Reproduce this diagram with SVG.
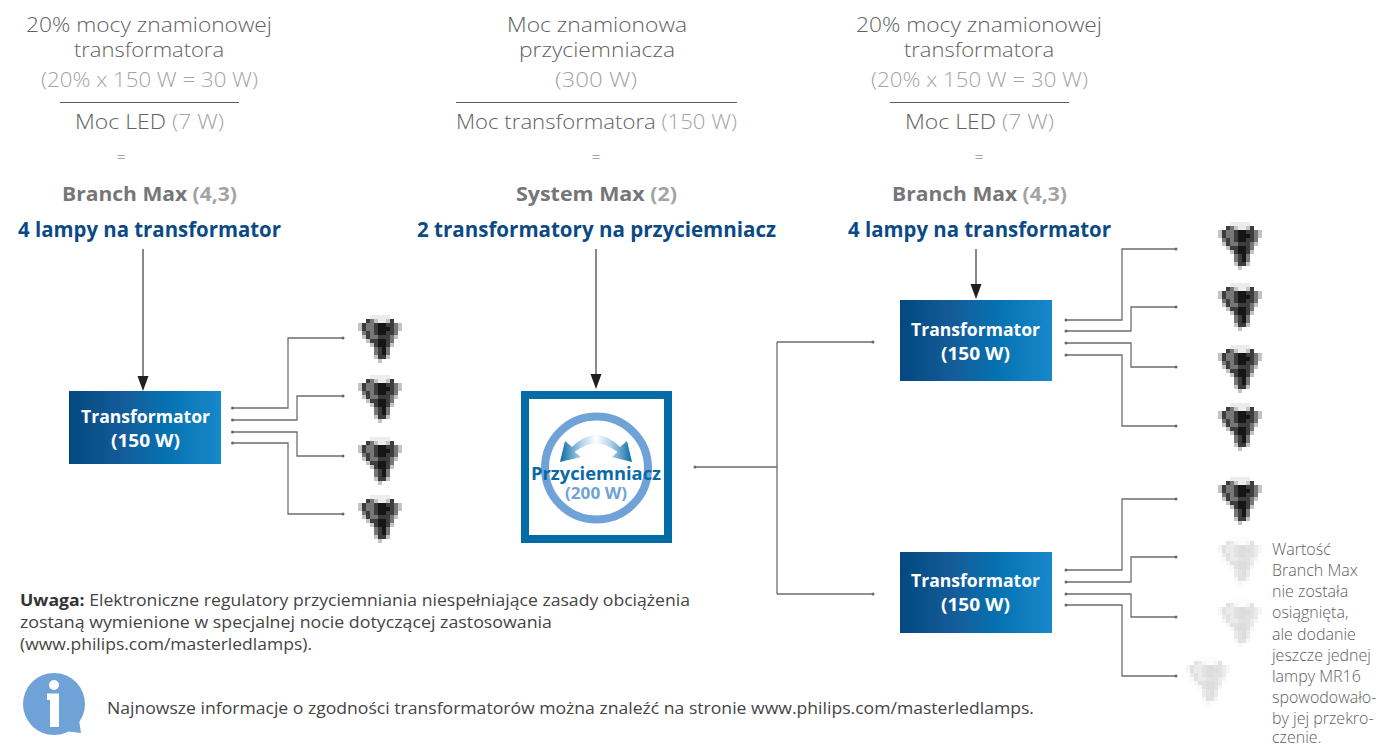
<svg xmlns="http://www.w3.org/2000/svg" xmlns:xlink="http://www.w3.org/1999/xlink" width="1388" height="747" viewBox="0 0 1388 747">
<style>
text{font-family:"Open Sans","Noto Sans","Liberation Sans",sans-serif}
.g{font-size:21px;font-weight:300;fill:#626262}
.p{fill:#a4a4a4}
.eq{font-size:16px;font-weight:300;fill:#626262;text-anchor:middle}
.b{font-size:19.500px;font-weight:700;fill:#767676}
.bp{fill:#a3a3a3}
.h{font-size:20.500px;font-weight:700;fill:#0b4a86}
.t{font-size:18px;font-weight:700;fill:#fff}
.n{font-size:15.500px;font-weight:400;fill:#444}
.s{font-size:16px;font-weight:300;fill:#5e5e5e}
.rule{stroke:#5a5a5a;stroke-width:1;fill:none}
.c{fill:none;stroke:#6e6e6e;stroke-width:1.300}
.a{fill:none;stroke:#4a4a4a;stroke-width:1.300}
.d{fill:#666}
.ah{fill:#231f20}
.box{fill:url(#bg)}
</style>
<defs>
<linearGradient id="bg"><stop offset="0" stop-color="#03487f"/><stop offset=".35" stop-color="#145c99"/><stop offset=".65" stop-color="#0672b1"/><stop offset="1" stop-color="#1888cb"/></linearGradient>
<linearGradient id="sw" gradientUnits="userSpaceOnUse" x1="560" y1="0" x2="632" y2="0"><stop offset="0" stop-color="#0a6aa6"/><stop offset=".3" stop-color="#b4d3e8"/><stop offset=".5" stop-color="#fff"/><stop offset=".7" stop-color="#b4d3e8"/><stop offset="1" stop-color="#0a6aa6"/></linearGradient>
<filter id="soft" x="-10%" y="-10%" width="120%" height="120%"><feGaussianBlur stdDeviation=".5"/></filter>
<g id="lamp" filter="url(#soft)" fill="none" stroke-width="4.200">
<path stroke="#ececec" d="M12 2h20M20 6h8"/>
<path stroke="#c4c4c4" d="M16 6h4M28 6h4M0 10h4M0 14h4M40 14h4M40 10h4M4 22h4M36 22h4M8 26h4M12 30h4M32 30h4M16 42h4M28 42h4M20 46h4"/>
<path stroke="#777" d="M12 6h4M8 10h8M36 10h4M8 14h8M36 14h4M12 18h4M4 18h4M36 18h4M12 22h8M32 22h4M32 26h4M16 34h4M28 34h4M16 38h4M28 38h4"/>
<path stroke="#3c3c3c" d="M8 6h4M32 6h4M4 10h4M16 10h4M28 10h8M4 14h4M16 14h4M32 14h4M8 18h4M16 18h4M28 18h8M8 22h4M20 22h12M12 26h8M28 26h4M16 30h4M28 30h4M20 34h4M20 38h4M20 42h8"/>
<path stroke="#151517" d="M20 10h8M20 14h12M20 18h8M20 26h8M20 30h8M24 34h4M24 38h4"/>
</g>
</defs>

<g id="connectors">
<g class="arrows">
<path class="a" d="M143 249V378"/><path class="ah" d="M137.500 376H148.500L143 391Z"/>
<path class="a" d="M596 249V376"/><path class="ah" d="M590.500 374H601.500L596 389Z"/>
<path class="a" d="M976 249V286"/><path class="ah" d="M970.500 284H981.500L976 299Z"/>
</g>
<path class="c" d="M232 408H288V338H343M232 420H297V396H343M232 432H297V456H343M232 443H288V514H343"/>
<path class="c" d="M694 467H777M777 342V594M777 342H873M777 594H873"/>
<path class="c" d="M1066 320H1122V249H1176M1066 331H1131V307H1176M1066 343H1131V367H1176M1066 355H1122V426H1176"/>
<path class="c" d="M1066 570H1122V499H1176M1066 582H1131V557H1176M1066 594H1131V617H1176M1066 605H1122V676H1176"/>
<g class="d">
<circle cx="232.500" cy="408" r="1.500"/><circle cx="232.500" cy="420" r="1.500"/><circle cx="232.500" cy="432" r="1.500"/><circle cx="232.500" cy="443" r="1.500"/>
<circle cx="343" cy="338" r="1.500"/><circle cx="343" cy="396" r="1.500"/><circle cx="343" cy="456" r="1.500"/><circle cx="343" cy="514" r="1.500"/>
<circle cx="695" cy="467" r="1.500"/><circle cx="873" cy="342" r="1.500"/><circle cx="873" cy="594" r="1.500"/>
<circle cx="1066" cy="320" r="1.500"/><circle cx="1066" cy="331" r="1.500"/><circle cx="1066" cy="343" r="1.500"/><circle cx="1066" cy="355" r="1.500"/>
<circle cx="1176" cy="249" r="1.500"/><circle cx="1176" cy="307" r="1.500"/><circle cx="1176" cy="367" r="1.500"/><circle cx="1176" cy="426" r="1.500"/>
<circle cx="1066" cy="570" r="1.500"/><circle cx="1066" cy="582" r="1.500"/><circle cx="1066" cy="594" r="1.500"/><circle cx="1066" cy="605" r="1.500"/>
<circle cx="1176" cy="499" r="1.500"/><circle cx="1176" cy="557" r="1.500"/><circle cx="1176" cy="617" r="1.500"/><circle cx="1176" cy="676" r="1.500"/>
</g>
</g>

<g id="formula-left">
<text class="g" x="26" y="32" textLength="246" lengthAdjust="spacingAndGlyphs">20% mocy znamionowej</text>
<text class="g" x="74" y="57" textLength="150" lengthAdjust="spacingAndGlyphs">transformatora</text>
<text class="g p" x="41" y="87" textLength="217" lengthAdjust="spacingAndGlyphs">(20% x 150 W = 30 W)</text>
<path class="rule" d="M60 102.500H239"/>
<text class="g" x="75" y="129" textLength="149" lengthAdjust="spacingAndGlyphs">Moc LED <tspan class="p">(7 W)</tspan></text>
<text class="eq" x="121" y="163">=</text>
<text class="b" x="62" y="200.500" textLength="175" lengthAdjust="spacingAndGlyphs">Branch Max <tspan class="bp">(4,3)</tspan></text>
<text class="h" x="18" y="237" textLength="263" lengthAdjust="spacingAndGlyphs">4 lampy na transformator</text>
</g>
<g id="formula-center">
<text class="g" x="507" y="32" textLength="180" lengthAdjust="spacingAndGlyphs">Moc znamionowa</text>
<text class="g" x="519" y="57" textLength="156" lengthAdjust="spacingAndGlyphs">przyciemniacza</text>
<text class="g p" x="555" y="87" textLength="82" lengthAdjust="spacingAndGlyphs">(300 W)</text>
<path class="rule" d="M456 102.500H737"/>
<text class="g" x="456" y="129" textLength="281" lengthAdjust="spacingAndGlyphs">Moc transformatora <tspan class="p">(150 W)</tspan></text>
<text class="eq" x="596" y="163">=</text>
<text class="b" x="516" y="200.500" textLength="161" lengthAdjust="spacingAndGlyphs">System Max <tspan class="bp">(2)</tspan></text>
<text class="h" x="417" y="237" textLength="359" lengthAdjust="spacingAndGlyphs">2 transformatory na przyciemniacz</text>
</g>
<g id="formula-right">
<text class="g" x="856" y="32" textLength="246" lengthAdjust="spacingAndGlyphs">20% mocy znamionowej</text>
<text class="g" x="904" y="57" textLength="150" lengthAdjust="spacingAndGlyphs">transformatora</text>
<text class="g p" x="871" y="87" textLength="217" lengthAdjust="spacingAndGlyphs">(20% x 150 W = 30 W)</text>
<path class="rule" d="M890 102.500H1069"/>
<text class="g" x="905" y="129" textLength="149" lengthAdjust="spacingAndGlyphs">Moc LED <tspan class="p">(7 W)</tspan></text>
<text class="eq" x="979" y="163">=</text>
<text class="b" x="892" y="200.500" textLength="175" lengthAdjust="spacingAndGlyphs">Branch Max <tspan class="bp">(4,3)</tspan></text>
<text class="h" x="848" y="237" textLength="263" lengthAdjust="spacingAndGlyphs">4 lampy na transformator</text>
</g>

<g id="transformer-left">
<rect class="box" x="69" y="391" width="152" height="73"/>
<text class="t" x="81" y="423" textLength="129" lengthAdjust="spacingAndGlyphs">Transformator</text>
<text class="t" x="111" y="447" textLength="69" lengthAdjust="spacingAndGlyphs">(150 W)</text>
</g>
<g id="transformer-top">
<rect class="box" x="900" y="300" width="152" height="81"/>
<text class="t" x="911" y="336" textLength="129" lengthAdjust="spacingAndGlyphs">Transformator</text>
<text class="t" x="941" y="360" textLength="69" lengthAdjust="spacingAndGlyphs">(150 W)</text>
</g>
<g id="transformer-bottom">
<rect class="box" x="900" y="552" width="152" height="81"/>
<text class="t" x="911" y="587" textLength="129" lengthAdjust="spacingAndGlyphs">Transformator</text>
<text class="t" x="941" y="611" textLength="69" lengthAdjust="spacingAndGlyphs">(150 W)</text>
</g>

<g id="dimmer">
<rect x="525" y="395" width="143" height="144" fill="#fff" stroke="#036ba6" stroke-width="8"/>
<circle cx="596.500" cy="468" r="51.500" fill="#fff" stroke="#6fa3d8" stroke-width="8"/>
<path fill="url(#sw)" d="M565 441L560 462L581 457L574.500 452Q596 435 617.500 452L612 457L632 462L627 441L620 447Q596 423 572 447Z"/>
<text x="531" y="480" textLength="130" lengthAdjust="spacingAndGlyphs" font-size="18" font-weight="700" fill="#0a6aa6">Przyciemniacz</text>
<text x="565" y="499" textLength="62" lengthAdjust="spacingAndGlyphs" font-size="16" font-weight="700" fill="#6fa3d8">(200 W)</text>
</g>

<g id="lamps-left">
<g id="lamp-l1"><use href="#lamp" x="358" y="315"/></g>
<g id="lamp-l2"><use href="#lamp" x="358" y="375"/></g>
<g id="lamp-l3"><use href="#lamp" x="358" y="437"/></g>
<g id="lamp-l4"><use href="#lamp" x="358" y="495"/></g>
</g>
<g id="lamps-right">
<g id="lamp-r1"><use href="#lamp" x="1218" y="222"/></g>
<g id="lamp-r2"><use href="#lamp" x="1218" y="283"/></g>
<g id="lamp-r3"><use href="#lamp" x="1218" y="345"/></g>
<g id="lamp-r4"><use href="#lamp" x="1218" y="403"/></g>
<g id="lamp-r5"><use href="#lamp" x="1218" y="477"/></g>
<g id="lamp-r6" opacity=".14"><use href="#lamp" x="1218" y="537"/></g>
<g id="lamp-r7" opacity=".14"><use href="#lamp" x="1218" y="599"/></g>
<g id="lamp-r8" opacity=".14"><use href="#lamp" x="1186" y="657"/></g>
</g>

<g id="note">
<text class="n" x="20" y="606" textLength="670" lengthAdjust="spacingAndGlyphs"><tspan font-weight="700" fill="#333">Uwaga:</tspan> Elektroniczne regulatory przyciemniania niespełniające zasady obciążenia</text>
<text class="n" x="20" y="628" textLength="532" lengthAdjust="spacingAndGlyphs">zostaną wymienione w specjalnej nocie dotyczącej zastosowania</text>
<text class="n" x="20" y="650" textLength="292" lengthAdjust="spacingAndGlyphs">(www.philips.com/masterledlamps).</text>
</g>
<g id="info">
<circle cx="54" cy="704" r="31" fill="#6fa3d8"/>
<path fill="#6fa3d8" d="M72 725L79 720L81 733L64 731Z"/>
<circle cx="54" cy="685" r="5" fill="#fff"/>
<path fill="#fff" d="M47 693.500H59V727H50V700H47Z"/>
<text class="n" x="107" y="714" textLength="927" lengthAdjust="spacingAndGlyphs">Najnowsze informacje o zgodności transformatorów można znaleźć na stronie www.philips.com/masterledlamps.</text>
</g>
<g id="side-note">
<text class="s" x="1272" y="555">Wartość</text>
<text class="s" x="1272" y="576">Branch Max</text>
<text class="s" x="1272" y="597">nie została</text>
<text class="s" x="1272" y="618">osiągnięta,</text>
<text class="s" x="1272" y="640">ale dodanie</text>
<text class="s" x="1272" y="661">jeszcze jednej</text>
<text class="s" x="1272" y="682">lampy MR16</text>
<text class="s" x="1272" y="703">spowodowało-</text>
<text class="s" x="1272" y="724">by jej przekro-</text>
<text class="s" x="1272" y="743">czenie.</text>
</g>
</svg>
